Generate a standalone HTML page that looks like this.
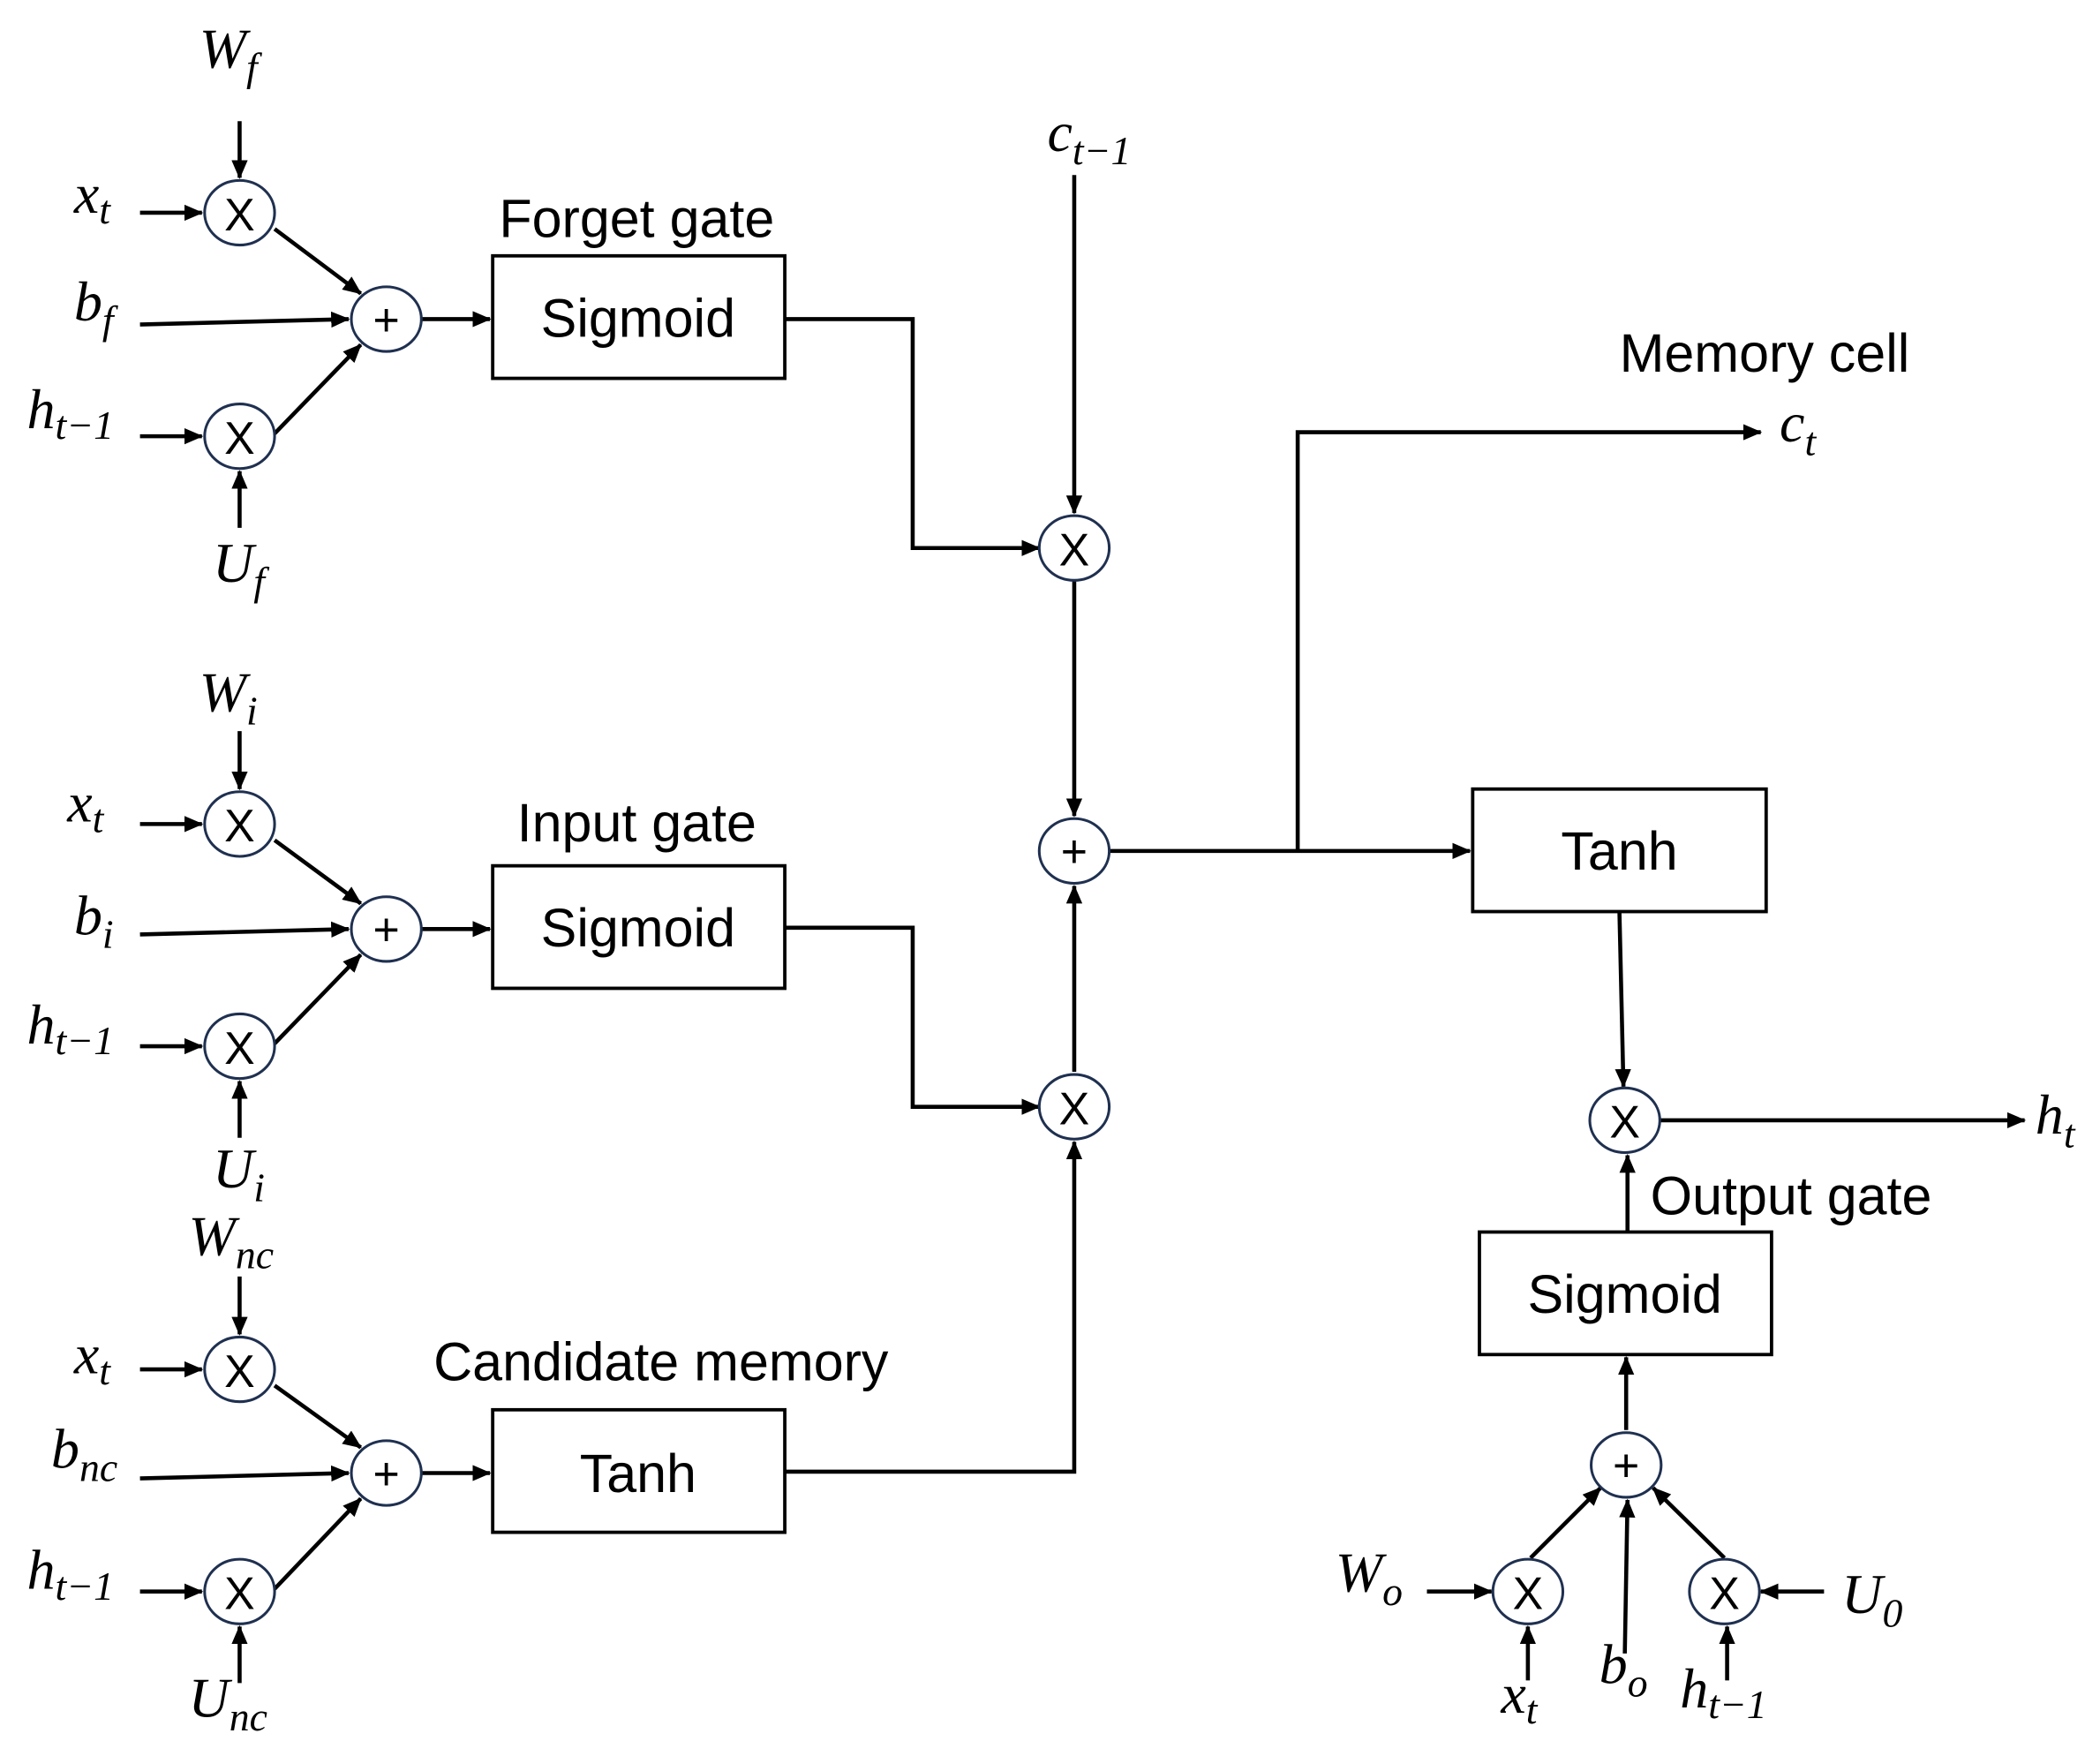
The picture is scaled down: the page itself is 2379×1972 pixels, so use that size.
<!DOCTYPE html>
<html><head><meta charset="utf-8"><style>
html,body{margin:0;padding:0;background:#fff;}
svg{display:block;}
.m{font-family:"Liberation Serif",serif;font-style:italic;font-size:42px;}
.s{font-size:30px;}
.t{font-family:"Liberation Sans",sans-serif;font-size:40px;}
.c{fill:#fff;stroke:#1f3050;stroke-width:2;}
.o{font-family:"Liberation Sans",sans-serif;font-size:34px;text-anchor:middle;}
</style></head><body>
<svg width="2379" height="1972" viewBox="0 0 1560 1293" preserveAspectRatio="none" xmlns="http://www.w3.org/2000/svg">
<defs>
<marker id="b" markerWidth="14" markerHeight="12" refX="13" refY="6" orient="auto" markerUnits="userSpaceOnUse"><path d="M0,0 L14,6 L0,12 z" fill="#000"/></marker></defs>
<g stroke="#000" stroke-width="3" fill="none" marker-end="url(#b)">
<line x1="178" y1="90" x2="178" y2="132"/>
<line x1="104" y1="158" x2="150" y2="158"/>
<line x1="204" y1="170" x2="268" y2="218"/>
<line x1="104" y1="241" x2="259" y2="237"/>
<line x1="204" y1="322" x2="268" y2="256"/>
<line x1="104" y1="324" x2="150" y2="324"/>
<line x1="178" y1="392" x2="178" y2="350"/>
<line x1="313" y1="237" x2="364" y2="237"/>
<line x1="178" y1="543" x2="178" y2="586"/>
<line x1="104" y1="612" x2="150" y2="612"/>
<line x1="204" y1="624" x2="268" y2="671"/>
<line x1="104" y1="694" x2="259" y2="690"/>
<line x1="204" y1="775" x2="268" y2="709"/>
<line x1="104" y1="777" x2="150" y2="777"/>
<line x1="178" y1="845" x2="178" y2="803"/>
<line x1="313" y1="690" x2="364" y2="690"/>
<line x1="178" y1="948" x2="178" y2="991"/>
<line x1="104" y1="1017" x2="150" y2="1017"/>
<line x1="204" y1="1029" x2="268" y2="1075"/>
<line x1="104" y1="1098" x2="259" y2="1094"/>
<line x1="204" y1="1180" x2="268" y2="1113"/>
<line x1="104" y1="1182" x2="150" y2="1182"/>
<line x1="178" y1="1250" x2="178" y2="1208"/>
<line x1="313" y1="1094" x2="364" y2="1094"/>
<line x1="798" y1="130" x2="798" y2="381"/>
<polyline points="583,237 678,237 678,407 772,407"/>
<line x1="798" y1="431" x2="798" y2="606"/>
<polyline points="583,689 678,689 678,822 772,822"/>
<line x1="798" y1="796" x2="798" y2="658"/>
<polyline points="583,1093 798,1093 798,848"/>
<line x1="824" y1="632" x2="1092" y2="632"/>
<polyline points="964,632 964,321 1308,321"/>
<line x1="1203" y1="677" x2="1206" y2="807"/>
<line x1="1233" y1="832" x2="1504" y2="832"/>
<line x1="1209" y1="914" x2="1209" y2="858"/>
<line x1="1208" y1="1062" x2="1208" y2="1008"/>
<line x1="1060" y1="1182" x2="1108" y2="1182"/>
<line x1="1355" y1="1182" x2="1308" y2="1182"/>
<line x1="1135" y1="1248" x2="1135" y2="1208"/>
<line x1="1283" y1="1248" x2="1283" y2="1208"/>
<line x1="1207" y1="1228" x2="1209" y2="1114"/>
<line x1="1137" y1="1157" x2="1189" y2="1105"/>
<line x1="1281" y1="1157" x2="1228" y2="1105"/>
</g>
<g fill="#fff" stroke="#000" stroke-width="2.5">
<rect x="366" y="190" width="217" height="91"/>
<rect x="366" y="643" width="217" height="91"/>
<rect x="366" y="1047" width="217" height="91"/>
<rect x="1094" y="586" width="218" height="91"/>
<rect x="1099" y="915" width="217" height="91"/>
</g>
<g>
<ellipse class="c" cx="178" cy="158" rx="26" ry="24"/><ellipse class="c" cx="287" cy="237" rx="26" ry="24"/><ellipse class="c" cx="178" cy="324" rx="26" ry="24"/>
<ellipse class="c" cx="178" cy="612" rx="26" ry="24"/><ellipse class="c" cx="287" cy="690" rx="26" ry="24"/><ellipse class="c" cx="178" cy="777" rx="26" ry="24"/>
<ellipse class="c" cx="178" cy="1017" rx="26" ry="24"/><ellipse class="c" cx="287" cy="1094" rx="26" ry="24"/><ellipse class="c" cx="178" cy="1182" rx="26" ry="24"/>
<ellipse class="c" cx="798" cy="407" rx="26" ry="24"/><ellipse class="c" cx="798" cy="632" rx="26" ry="24"/><ellipse class="c" cx="798" cy="822" rx="26" ry="24"/>
<ellipse class="c" cx="1207" cy="832" rx="26" ry="24"/><ellipse class="c" cx="1208" cy="1088" rx="26" ry="24"/>
<ellipse class="c" cx="1135" cy="1182" rx="26" ry="24"/><ellipse class="c" cx="1281" cy="1182" rx="26" ry="24"/>
</g>
<g class="o">
<text x="178" y="171">X</text><text x="287" y="249">+</text><text x="178" y="337">X</text>
<text x="178" y="625">X</text><text x="287" y="702">+</text><text x="178" y="790">X</text>
<text x="178" y="1030">X</text><text x="287" y="1106">+</text><text x="178" y="1195">X</text>
<text x="798" y="420">X</text><text x="798" y="644">+</text><text x="798" y="835">X</text>
<text x="1207" y="845">X</text><text x="1208" y="1100">+</text>
<text x="1135" y="1195">X</text><text x="1281" y="1195">X</text>
</g>
<g class="t" text-anchor="middle">
<text x="474" y="250">Sigmoid</text><text x="474" y="703">Sigmoid</text><text x="474" y="1108">Tanh</text>
<text x="1203" y="646">Tanh</text><text x="1207" y="975">Sigmoid</text>
<text x="473" y="176">Forget gate</text><text x="473" y="625">Input gate</text><text x="491" y="1025">Candidate memory</text>
</g>
<g class="t">
<text x="1203" y="276">Memory cell</text><text x="1226" y="902">Output gate</text>
</g>
<g class="m">
<text x="148" y="50">W<tspan class="s" dy="10">f</tspan></text>
<text x="55" y="158">x<tspan class="s" dy="8">t</tspan></text>
<text x="55" y="238">b<tspan class="s" dy="10">f</tspan></text>
<text x="20" y="318">h<tspan class="s" dy="8">t−1</tspan></text>
<text x="158" y="432">U<tspan class="s" dy="10">f</tspan></text>
<text x="148" y="528">W<tspan class="s" dy="10">i</tspan></text>
<text x="50" y="610">x<tspan class="s" dy="8">t</tspan></text>
<text x="55" y="694">b<tspan class="s" dy="10">i</tspan></text>
<text x="20" y="775">h<tspan class="s" dy="8">t−1</tspan></text>
<text x="158" y="882">U<tspan class="s" dy="10">i</tspan></text>
<text x="140" y="932">W<tspan class="s" dy="10">nc</tspan></text>
<text x="55" y="1020">x<tspan class="s" dy="8">t</tspan></text>
<text x="38" y="1090">b<tspan class="s" dy="10">nc</tspan></text>
<text x="20" y="1180">h<tspan class="s" dy="8">t−1</tspan></text>
<text x="140" y="1275">U<tspan class="s" dy="10">nc</tspan></text>
<text x="778" y="112">c<tspan class="s" dy="10">t−1</tspan></text>
<text x="1322" y="328">c<tspan class="s" dy="10">t</tspan></text>
<text x="1512" y="842">h<tspan class="s" dy="10">t</tspan></text>
<text x="992" y="1182">W<tspan class="s" dy="10">o</tspan></text>
<text x="1368" y="1198">U<tspan class="s" dy="10">0</tspan></text>
<text x="1115" y="1272">x<tspan class="s" dy="8">t</tspan></text>
<text x="1188" y="1250">b<tspan class="s" dy="10">o</tspan></text>
<text x="1248" y="1268">h<tspan class="s" dy="8">t−1</tspan></text>
</g>
</svg>
</body></html>
